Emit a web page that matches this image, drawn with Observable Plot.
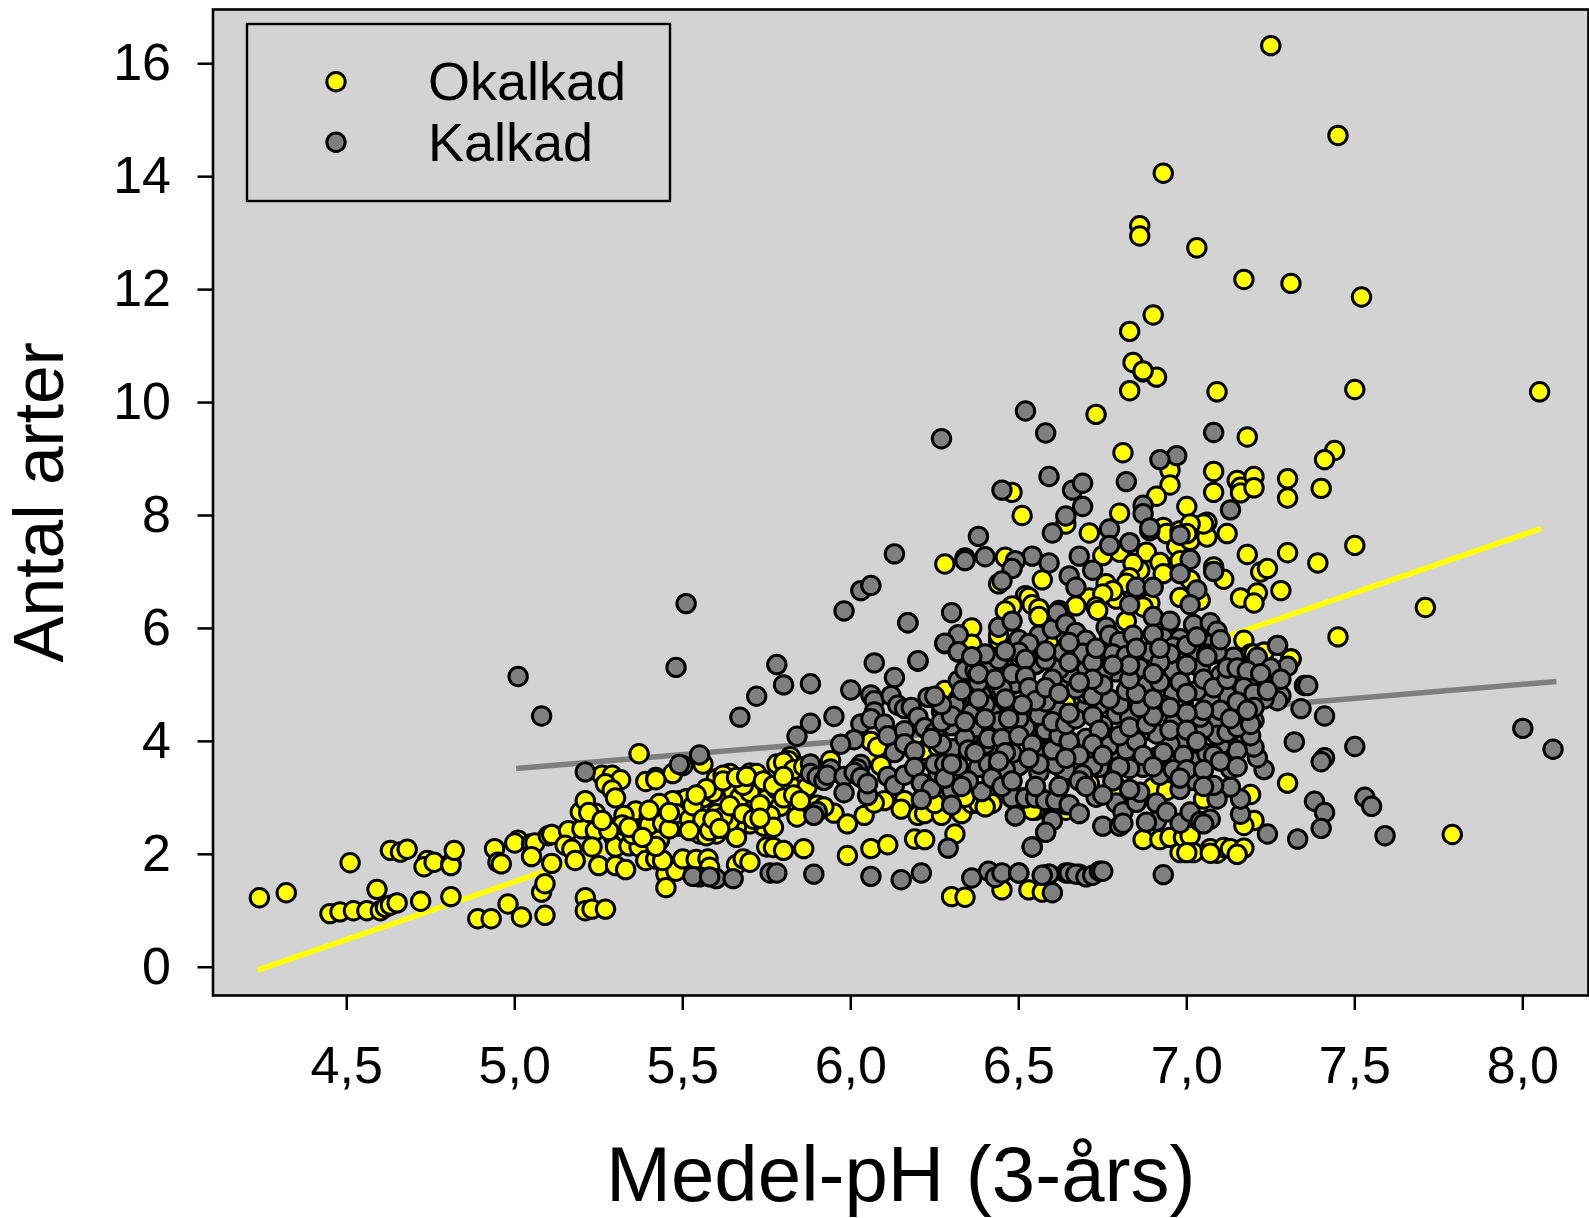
<!DOCTYPE html>
<html><head><meta charset="utf-8">
<script src="https://cdn.jsdelivr.net/npm/d3@7"></script>
<script src="https://cdn.jsdelivr.net/npm/@observablehq/plot@0.6"></script>
<style>html,body{margin:0;padding:0;background:#fff}svg{display:block}</style>
</head><body><div id="c"></div><script>
const xTicks=[4.5,5,5.5,6,6.5,7,7.5,8];
const yTicks=[0,2,4,6,8,10,12,14,16];
const xTitle="Medel-pH (3-års)", yTitle="Antal arter";
const series=["Okalkad","Kalkad"];
const okalkadLine=[[4.235,-0.05],[8.055,7.77]];
const kalkadLine=[[5.004,3.52],[8.10,5.06]];
const okalkad=[[4.24,1.23],[4.32,1.32],[4.51,1.85],[4.45,.95],[4.48,.98],[4.52,1],[4.56,1],[4.6,1],[4.59,1.38],[4.615,1.06],[4.63,1.1],[4.65,1.14],[4.72,1.17],[4.81,1.25],[4.63,2.07],[4.66,2.04],[4.68,2.09],[4.74,1.89],[4.73,1.78],[4.76,1.86],[4.81,1.84],[4.81,1.8],[4.82,2.07],[4.94,2.1],[4.95,1.86],[4.96,1.83],[4.89,.86],[4.93,.86],[4.98,1.12],[5.02,.89],[5.09,.92],[5.08,1.33],[5.09,1.48],[5.01,2.25],[5,2.2],[5.05,2.19],[5.06,2.2],[5.05,1.96],[5.11,1.84],[5.1,2.33],[5.11,2.35],[5.16,2.42],[5.15,2.16],[5.17,2.09],[5.18,1.89],[5.2,2.45],[5.24,2.42],[5.23,2.13],[5.25,1.8],[5.195,2.75],[5.21,2.95],[5.24,2.73],[5.22,2.74],[5.26,3.4],[5.29,3.4],[5.315,3.32],[5.27,3.25],[5.29,3.14],[5.3,3],[5.21,1.23],[5.21,1],[5.23,1.03],[5.27,1.03],[5.37,3.78],[5.39,3.29],[5.42,3.36],[5.47,3.43],[5.305,2.48],[5.295,2.3],[5.3,2.13],[5.33,2.38],[5.34,2.15],[5.37,2.13],[5.3,1.8],[5.33,1.73],[5.39,1.89],[5.42,1.92],[5.44,1.89],[5.45,1.65],[5.45,1.41],[5.48,1.7],[5.5,1.92],[5.54,1.91],[5.43,2.25],[5.38,2.45],[5.43,2.57],[5.45,2.6],[5.49,2.5],[5.5,2.66],[5.34,2.6],[5.36,2.77],[5.325,2.69],[5.4,2.66],[5.43,2.87],[5.47,2.92],[5.49,2.95],[5.51,2.98],[5.55,3],[5.55,2.45],
[5.42,3.32],[5.5,3.57],[5.56,3.6],[5.6,3.34],[5.64,3.43],[5.62,3.4],[5.66,3.24],[5.65,3.1],[5.67,3.01],[5.7,3.1],[5.7,3.44],[5.72,3.43],[5.75,2.98],[5.78,3.4],[5.78,3.15],[5.78,3.6],[5.82,3.73],[5.815,3.66],[5.8,3.63],[5.82,3.22],[5.87,3.19],[5.84,2.91],[5.79,2.85],[5.84,2.66],[5.76,2.69],[5.74,2.5],[5.77,2.48],[5.7,2.54],[5.66,2.48],[5.66,2.3],[5.64,2.59],[5.6,2.55],[5.58,2.73],[5.6,2.36],[5.55,2.45],[5.55,2.36],[5.57,2.33],[5.53,2.72],[5.5,2.66],[5.56,3],[5.59,3.1],[5.51,2.98],[5.47,2.95],[5.43,2.9],[5.45,2.6],[5.5,2.54],[5.43,2.25],[5.42,1.92],[5.44,1.89],[5.575,1.92],[5.58,1.77],[5.66,1.82],[5.68,1.92],[5.7,1.86],[5.75,2.13],[5.77,2.12],[5.8,2.07],[5.86,2.1],[5.99,1.98],[6.06,2.1],[6.11,2.17],[6.19,2.27],[6.22,2.26],[6.31,2.36],[5.95,2.73],[5.99,2.54],[6.04,2.69],[5.9,2.87],[5.92,2.84],[5.94,3.66],[6.06,4],[6.08,3.9],[6.09,3.57],[6.1,2.95],[6.07,2.91],[6.16,2.95],[6.15,2.8],[6.2,2.69],[6.22,2.72],[6.27,2.69],[6.25,2.9],[6.33,2.72],[6.36,2.9],[6.38,2.9],[6.34,3.01],[6.42,2.9],[6.4,2.84],[6.3,1.25],[6.34,1.24],[6.45,1.37],[6.53,1.37],[6.57,1.33],[6.36,5.7],[6.39,4.05],[6.4,5.08],[6.28,4.9],[6.22,3.84],[6.26,3.9],[6.535,4.84],[6.64,4.67],[6.585,5.73],[6.44,5.79],[6.55,2.78],[6.6,2.9],[6.64,2.78],
[5.32,2.52],[5.35,2.35],[5.37,2.42],[5.4,2.52],[5.44,2.55],[5.46,2.45],[5.48,2.72],[5.52,2.62],[5.53,2.86],[5.56,2.62],[5.58,2.42],[5.6,2.72],[5.62,2.66],[5.64,2.86],[5.68,2.72],[5.71,2.62],[5.68,3.22],[5.57,3.16],[5.54,3.05],[5.62,3.3],[5.66,3.36],[5.69,3.38],[5.74,3.3],[5.77,3.22],[5.73,2.88],[5.8,3],[5.83,3.05],[5.85,2.95],[5.83,3.5],[5.86,3.55],[5.8,3.38],[5.59,2.62],[5.46,2.74],[5.4,2.78],[5.34,2.48],[5.28,2.42],[5.26,2.6],[5.52,2.42],[5.61,2.46],[5.73,2.64],[5.42,2.14],[5.38,2.3],
[6.87,2.26],[6.92,2.26],[6.95,2.3],[6.98,2.03],[6.99,2.3],[7.01,2.33],[7.02,2.03],[7,2.03],[7.07,2.1],[7.09,2.02],[7.11,2.12],[7.13,2.1],[7.17,2.11],[7.15,2],[7.07,2.02],[6.79,3.19],[6.9,3.19],[6.94,3.13],[7.05,2.98],[7.19,3.06],[7.2,2.6],[7.17,2.51],[7.3,3.26],[6.54,2.78],[7.17,5.79],[7.23,5.58],[7.31,5.46],[7.45,5.85],[7.19,5.55],[6.64,4.67],[6.71,3.25],
[6.83,10.21],[6.87,10.54],[6.91,10.45],[7.09,10.19],[7.5,10.23],[6.73,9.79],[7.18,9.39],[6.81,9.11],[7.44,9.15],[7.41,8.99],[6.95,8.8],[6.95,8.54],[7.08,8.78],[7.08,8.41],[7.15,8.62],[7.16,8.5],[7.16,8.4],[7.2,8.69],[7.2,8.49],[7.3,8.65],[7.3,8.31],[7.4,8.48],[6.48,8.41],[6.51,8],[6.91,8.34],[7,8.16],[6.8,8.04],[6.71,7.69],[6.64,7.85],[7.12,7.68],[7.18,7.31],[7.3,7.34],[7.39,7.16],[7.5,7.47],[6.28,7.14],[6.46,7.26],[6.75,7.29],[6.8,7.35],[6.88,7.35],[6.93,7.79],[6.94,7.68],[6.89,7.73],[6.97,7.45],[7.01,7.56],[7.01,7.73],[7.06,7.62],[7.06,7.88],[7.05,7.85],[6.98,7.73],[7.01,7.85],[7,7.68],[6.94,7.08],[6.92,7.17],[6.93,6.97],[6.86,7.03],[6.84,7.15],[6.83,6.9],[6.82,6.8],[6.98,7.2],[7.08,7.09],[7.11,6.87],[7.22,7],[7.24,7.06],[7.21,6.63],[7.16,6.54],[7.2,6.45],[7.28,6.67],[7.01,6.86],[7.04,6.5],[6.98,6.55],[6.89,6.45],[6.87,6.38],[6.82,6.13],[6.79,6.52],[6.76,6.79],[6.78,6.67],[6.71,6.54],[6.75,6.61],[6.67,6.4],[6.73,6.38],[6.735,6.32],[6.57,6.86],[6.44,6.79],[6.52,6.58],[6.53,6.55],[6.54,6.42],[6.56,6.35],[6.56,6.21],[6.48,6.4],[6.46,6.31],[6.44,5.88],[6.36,6.01],[6.36,5.72],[6.59,5.72],[7.2,5.55],[7.23,5.58],[7.31,5.46],
[7.25,16.32],[7.45,14.73],[6.93,14.06],[6.86,13.13],[6.86,12.95],[7.03,12.74],[7.17,12.18],[7.31,12.11],[7.52,11.87],[6.9,11.55],[6.83,11.26],[6.84,10.71],[6.87,10.56],[8.05,10.19],[7.71,6.37],[7.79,2.35]];
const kalkad=[[5.01,5.15],[5.08,4.45],[5.21,3.46],[5.51,6.44],[5.98,6.31],[6.03,6.67],[6.06,6.76],[6.13,7.32],[6.17,6.1],[8,4.23],[8.09,3.86],[5.55,3.76],[5.49,3.59],
[5.48,5.31],[5.78,5.36],[5.8,5],[5.88,5.02],[5.72,4.8],[5.67,4.43],[6.07,5.39],[6.2,5.42],[6.13,5.13],[6,4.91],[6.06,4.82],[6.07,4.72],[6.12,4.81],[6.14,4.64],[6.16,4.58],[6.18,4.6],[5.95,4.44],[5.88,4.32],[5.84,4.09],[6.03,4.31],[6.07,4.52],[6.06,4.4],[6.1,4.31],[6.11,4.1],[6.16,4.19],[6.2,4.43],[6.22,4.24],[6.25,4.16],[6.01,4.03],[5.97,3.95],[6.13,3.8],[6.16,3.96],[6.19,3.83],[5.88,3.6],[5.88,3.43],[5.9,3.37],[5.92,3.31],[5.94,3.51],[5.93,3.4],[5.98,3.38],[6.03,3.59],[6.02,3.51],[6.01,3.45],[6.03,3.36],[5.98,3.09],[6.05,3.04],[6.05,3.25],[6.11,3.38],[6.13,3.22],[6.16,3.4],[6.19,3.54],[6.21,3.26],[6.24,3.16],[6.21,2.97],[6.26,3.44],[6.25,3.6],[6.3,3.13],[6.3,2.87],[6.32,3.56],[6.3,3.87],[6.28,3.6],[6.23,4.78],[6.27,4.53],[6.32,5.08],[6.32,5.58],[6.28,5.73],[6.32,4.75],[6.31,4.64],[6.36,4.5],[6.37,4.24],[6.34,4.06],[6.3,4.28],[6.34,5.26],[6.37,5.26],[6.41,5.3],[6.46,5.29],[6.44,4.91],[6.49,5.02],[6.39,4.81],[6.36,4.84],[6.42,4.5],[6.48,4.55],[6.5,4.37],[6.52,4.24],[6.46,4.19],[6.43,3.89],[6.48,3.78],[6.38,3.54],[6.41,3.6],[6.44,3.57],[6.46,3.51],[6.5,3.57],[6.56,3.84],[6.56,3.45],[6.58,4.18],[6.55,5.36],[6.5,5.58],[6.5,5.79],[6.62,5.29],[6.61,4.6],[6.63,3.51],[6.61,3.6],[6.39,3.11],[6.48,3],[6.51,3],[6.57,2.98],[6.49,2.68],[6.64,2.88],[6.6,2.6],[6.58,2.39],[6.54,2.13],[6.29,2.11],[5.55,1.6],[5.53,1.61],[5.6,1.57],[5.58,1.6],[5.65,1.57],[5.76,1.67],[5.78,1.67],[5.89,1.65],[6.06,1.61],[6.15,1.55],[6.21,1.67],[6.36,1.58],[6.41,1.7],[6.43,1.59],[6.45,1.67],[6.5,1.67],[6.57,1.63],[6.59,1.65],[6.6,1.32],[6.64,1.67],[5.9,2.76],[5.89,2.69],
[7.35,4.99],[7.36,4.99],[7.34,4.58],[7.41,4.45],[7.32,3.99],[7.5,3.91],[7.41,3.71],[7.4,3.64],[7.23,3.5],[7.38,2.94],[7.41,2.74],[7.53,3.01],[7.55,2.85],[7.4,2.46],[7.33,2.27],[7.24,2.36],[7.59,2.33],[6.93,1.64],[7.16,2.71],[7.16,2.98],[7.13,3.19],[7.09,2.98],[7.08,3.22],[7.02,3.31],[6.98,3.15],[7.02,3.65],[7.13,3.51],[7.21,3.71],[7.2,3.9],[7.2,4.37],[7.17,4.12],[7.19,4.1],[7.15,3.84],[7.1,3.93],[7.08,4.28],[7.09,4.11],[7.05,4.22],[7.12,4.16],[7.04,4.43],[7.06,3.78],[7.08,3.75],[6.96,4.31],[6.98,3.99],[6.95,3.95],[6.91,4.13],[6.91,3.72],[6.86,4.13],[6.92,3.4],[6.87,3.54],[6.83,3.52],[6.8,3.75],[6.77,3.53],[6.74,3.54],[6.72,3.57],[6.77,3.93],[6.7,4.05],[6.79,4.48],[6.75,4.28],[6.83,4.43],[6.7,4.6],[6.61,4.6],[6.52,4.25],[6.58,4.19],[6.64,3.48],[6.69,3.41],[6.61,3.59],[6.56,3.6],[6.5,3.57],[6.48,3.79],[6.46,3.5],[6.48,3],[6.52,3],[6.55,3],[6.58,2.95],[6.61,2.95],[6.65,2.88],[6.68,2.72],[6.6,2.6],[6.58,2.39],[6.54,2.13],[6.49,2.68],[6.73,3.01],[6.79,2.91],[6.81,2.75],[6.75,2.5],[6.8,2.5],[6.81,2.55],[6.85,2.92],[6.86,3.1],[6.91,2.91],[6.91,2.59],[6.88,2.57],[6.94,2.75],[6.98,2.55],[7.01,2.75],[7.04,2.58],[7.07,2.62],[7.05,2.54],[6.5,1.67],[6.59,1.65],[6.57,1.63],[6.65,1.67],[6.68,1.65],[6.67,1.65],[6.7,1.6],[6.72,1.63],[6.74,1.7],[6.75,1.7],
[7.27,5.7],[7.3,5.33],[7.25,5.02],[7.28,4.81],[7.27,4.72],[7.23,4.75],[7.21,5.46],[7.2,5.28],[7.19,5.03],[7.15,5.08],[7.14,5.46],[7.12,4.81],[7.14,4.55],[7.07,4.75],[7.06,5.02],[7.1,5.17],[7.03,4.9],[7.04,5.3],[7.07,5.7],[7.08,5.55],[6.98,5.52],[6.96,5.26],[6.99,4.7],[6.96,4.84],[6.93,4.64],[6.88,4.99],[6.86,5.3],[6.89,5.58],[6.8,5.73],[6.79,5.23],[6.78,5.52],[6.75,5.17],[6.7,5.26],[6.69,5.55],[6.7,4.84],[6.74,4.64],[6.67,4.93],[6.65,5.2],[6.62,5.28],[6.63,5.58],[6.55,5.37],[6.49,5.03],[6.46,5.29],[6.5,5.61],[6.45,4.93],[6.56,4.46],[6.58,4.7],[6.48,4.55],[6.5,4.4],[6.54,5.73],
[6.52,9.85],[6.27,9.36],[6.58,9.46],[7.08,9.47],[6.97,9.06],[6.92,8.99],[6.59,8.69],[6.82,8.6],[6.45,8.45],[6.66,8.45],[6.69,8.57],[6.69,8.16],[6.64,7.99],[6.6,7.69],[6.87,8.18],[6.87,8.03],[7.13,8.1],[6.89,7.78],[6.77,7.76],[6.77,7.47],[6.83,7.52],[6.98,7.65],[6.38,7.63],[6.34,7.25],[6.34,7.2],[6.4,7.27],[6.54,7.28],[6.49,7.2],[6.59,7.16],[6.68,7.28],[6.48,7.06],[7.01,7.22],[6.98,6.97],[7.08,7.01],[6.72,7.03],[6.65,6.93],[6.67,6.73],[6.45,6.84],[6.85,6.73],[6.9,6.73],[7.03,6.68],[7.01,6.42],[6.83,6.42],[6.9,6.21],[6.95,6.13],[7.02,6.07],[7.07,6.1],[7.09,5.95],[6.3,6.28],[6.17,6.1],[6.32,5.89],[6.28,5.74],[6.32,5.59],[6.2,5.43],[6.44,6.02],[6.48,6.13],[6.56,5.88],[6.6,5.99],[6.62,6.32],[6.615,6.28],[6.64,6.08],[6.67,5.93],[6.5,5.8],[6.53,5.73],[6.5,5.58],[6.7,5.79],[6.76,6.02],[6.77,5.88],[6.8,5.77],[6.84,5.88],[6.93,5.83],[6.98,5.82],[6.96,5.67],[7.07,5.72],[7.27,5.7],[7.03,5.61],[7.06,5.55],[7.14,5.49],[7.21,5.49],[6.89,5.58],[6.78,5.55],[6.82,5.52],[6.69,5.56],[6.63,5.58],[6.58,5.44],[7.09,5.58],[6.95,5.55],
[6.38,5.05],[6.4,4.65],[6.42,4.2],[6.35,3.85],[6.4,3.95],[6.35,3.3],[6.42,3.35],[6.45,3.2],[6.33,3.2],[6.28,3.35],[6.3,3.6],[6.27,3.95],[6.24,4.05],[6.27,4.35],[6.3,4.45],[6.27,4.65],[6.25,4.8],[6.33,4.9],[6.38,5.2],[6.43,5.1],[6.44,5.45],[6.48,5.2],[6.52,5.45],[6.52,5.15],[6.53,4.95],[6.55,4.72],[6.51,4.65],[6.46,4.75],[6.44,4.35],[6.47,4.4],[6.41,4.05],[6.45,4.05],[6.5,4.1],[6.54,3.95],[6.53,3.7],[6.46,3.8],[6.44,3.65],[6.6,3.85],[6.62,4.1],[6.65,4.0],[6.6,4.35],[6.64,4.3],[6.67,4.4],[6.65,4.5],[6.72,4.45],[6.74,4.2],[6.72,3.95],[6.68,3.75],[6.64,3.7],[6.75,3.75],[6.8,3.55],[6.82,3.85],[6.85,4.0],[6.8,4.1],[6.83,4.25],[6.88,4.3],[6.9,4.45],[6.86,4.6],[6.8,4.65],[6.77,4.75],[6.72,4.8],[6.75,5],[6.82,4.9],[6.85,4.85],[6.9,4.75],[6.92,5.05],[6.83,5.1],[6.83,5.35],[6.92,5.4],[6.9,5.2],[6.98,5.05],[7.0,5.35],[7.0,4.85],[7.05,5.1],[7.08,4.95],[7.12,5.1],[7.12,5.3],[7.06,5.5],[7.15,5.3],[7.18,5.25],[7.17,4.95],[7.2,4.85],[7.15,4.7],[7.1,4.55],[7.05,4.55],[7.0,4.5],[6.95,4.6],[6.95,4.2],[7.0,4.2],[7.03,4.0],[6.99,3.75],[6.93,3.8],[6.87,3.75],[6.9,3.55],[6.96,3.5],[7.0,3.5],[7.05,3.5],[7.1,3.65],[7.15,3.55],[7.15,4.25],[7.13,4.4],[7.19,4.3],[7.2,4.6],[6.65,5.4],[6.72,5.4],[6.78,5.35],[6.72,5.1],[6.68,5.05],[6.6,5.1],[6.58,4.95],[6.62,4.85],[6.68,3.3],[6.78,3.3],[6.83,3.15],[6.7,3.2],[6.62,3.2],[6.55,3.2],[6.75,3.05],[6.98,3.35],[7.05,3.2],[6.48,3.3],[6.37,3.8],[6.4,4.4],[6.34,4.35],[6.38,4.75],[6.58,5.6],[6.4,5.55],[6.36,5.5],[6.46,5.6],[6.65,5.75],[6.73,5.65],[6.85,5.65],[6.9,5.9],[7.0,5.7],[7.03,5.85],[7.1,5.8],[6.92,5.65],[7.25,5.3],[7.22,5.2],[7.28,5.1],[7.24,4.9],[7.18,4.55]];

const svg=Plot.plot({
  width:1589,height:1218,marginLeft:212.5,marginRight:1,marginTop:9,marginBottom:223,
  style:{fontFamily:"'Liberation Sans',Arial,sans-serif",background:"#fff",color:"#000"},
  x:{domain:[4.102,8.1955]},
  y:{domain:[-0.5,16.96]},
  marks:[
    Plot.frame({fill:"#D3D3D3",stroke:"none"}),
    Plot.line(okalkadLine,{x:d=>d[0],y:d=>d[1],stroke:"#FFFF00",strokeWidth:5.5,strokeLinecap:"butt"}),
    Plot.line(kalkadLine,{x:d=>d[0],y:d=>d[1],stroke:"#7F7F7F",strokeWidth:5.5,strokeLinecap:"butt"}),
    Plot.dot(okalkad,{x:d=>d[0],y:d=>d[1],r:9.2,fill:"#FFFF00",stroke:"#000",strokeWidth:3}),
    Plot.dot(kalkad,{x:d=>d[0],y:d=>d[1],r:9.2,fill:"#7F7F7F",stroke:"#000",strokeWidth:3}),
    Plot.frame({stroke:"#000",strokeWidth:2.6}),
    Plot.axisX({ticks:xTicks,tickSize:15,tickPadding:36,fontSize:52,strokeWidth:2.5,label:null,
      tickFormat:d=>d.toFixed(1).replace(".",",")}),
    Plot.axisY({ticks:yTicks,tickSize:15,tickPadding:27,fontSize:52,strokeWidth:2.5,label:null}),
    Plot.text([xTitle],{frameAnchor:"bottom",dy:205,fontSize:78,fill:"#000"}),
    Plot.text([yTitle],{frameAnchor:"left",textAnchor:"middle",rotate:-90,dx:-172.5,fontSize:69.5,fill:"#000"})
  ]
});
document.getElementById("c").appendChild(svg);
const lg=d3.select(svg).append("g").attr("text-anchor","start");
lg.append("rect").attr("x",247).attr("y",24).attr("width",423).attr("height",177).attr("fill","#D3D3D3").attr("stroke","#000").attr("stroke-width",2.4);
const fills=["#FFFF00","#7F7F7F"],ys=[81.7,142.3],bs=[100,160.7];
series.forEach((s,i)=>{
  lg.append("circle").attr("cx",336).attr("cy",ys[i]).attr("r",9.2).attr("fill",fills[i]).attr("stroke","#000").attr("stroke-width",3);
  lg.append("text").attr("x",428).attr("y",bs[i]).attr("font-size",54).attr("fill","#000").attr("text-anchor","start").text(s);
});
</script></body></html>
